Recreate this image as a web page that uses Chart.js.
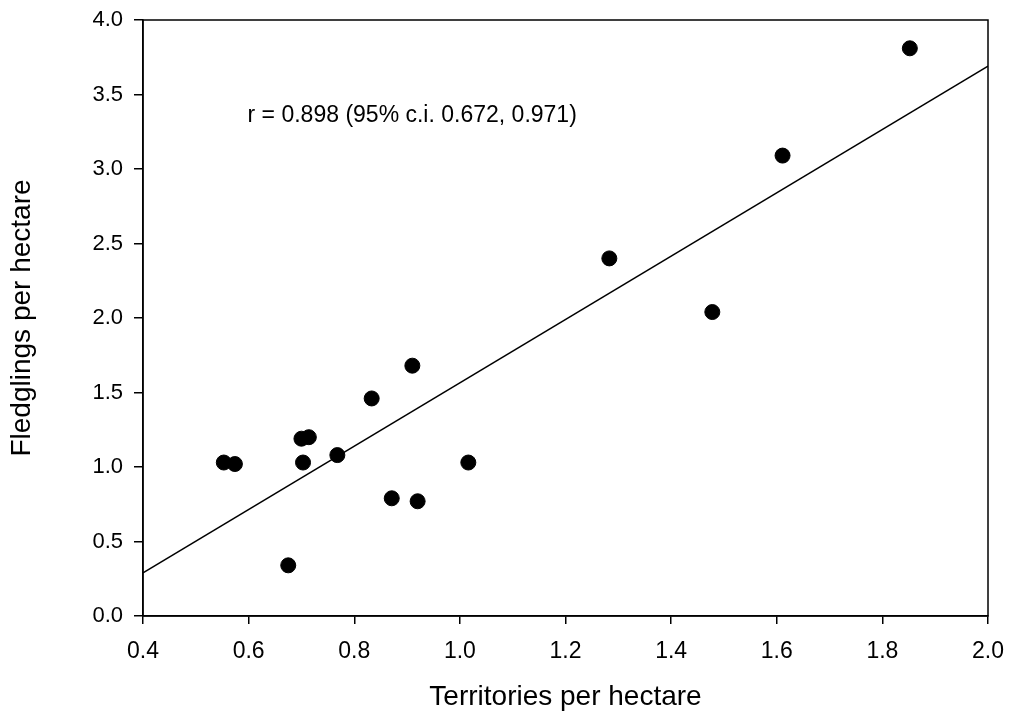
<!DOCTYPE html>
<html>
<head>
<meta charset="utf-8">
<title>Fledglings vs territories</title>
<script src="https://cdn.jsdelivr.net/npm/chart.js@4/dist/chart.umd.min.js"></script>
<style>
  html, body { margin: 0; padding: 0; background: #fff; }
  #wrap { width: 1010px; height: 716px; position: relative; }
</style>
</head>
<body>
<div id="wrap"><canvas id="scatter"></canvas></div>
<script>
// territories per hectare (x) and fledglings per hectare (y), one entry per site
const territories = [0.553, 0.574, 0.675, 0.700, 0.714, 0.703, 0.768, 0.833,
                     0.910, 0.871, 0.920, 1.016, 1.283, 1.478, 1.611, 1.852];
const fledglings  = [1.03, 1.02, 0.34, 1.19, 1.20, 1.03, 1.08, 1.46,
                     1.68, 0.79, 0.77, 1.03, 2.40, 2.04, 3.09, 3.81];

// end points of the fitted regression line
const fitX = [0.4, 2.0];
const fitY = [0.29, 3.69];

const statsLabel = 'r = 0.898 (95% c.i. 0.672, 0.971)';
const FONT = "'Liberation Sans', Arial, sans-serif";

// box around the plot + the r value text
const framePlugin = {
  id: 'frame',
  afterDraw(chart) {
    const { ctx, chartArea: a, scales } = chart;
    ctx.save();
    ctx.strokeStyle = '#000';
    ctx.lineWidth = 1.5;
    ctx.strokeRect(a.left, a.top, a.right - a.left, a.bottom - a.top);

    ctx.fillStyle = '#000';
    ctx.font = '23px ' + FONT;
    ctx.textBaseline = 'middle';
    ctx.textAlign = 'left';
    ctx.fillText(statsLabel, scales.x.getPixelForValue(0.598), scales.y.getPixelForValue(3.36));
    ctx.restore();
  }
};

new Chart(document.getElementById('scatter'), {
  type: 'scatter',
  data: {
    datasets: [
      {
        label: 'sites',
        data: territories.map((t, i) => ({ x: t, y: fledglings[i] })),
        backgroundColor: '#000',
        borderColor: '#000',
        pointRadius: 7.5,
        pointHoverRadius: 7.5
      },
      {
        label: 'fit',
        type: 'line',
        data: fitX.map((t, i) => ({ x: t, y: fitY[i] })),
        borderColor: '#000',
        borderWidth: 1.5,
        pointRadius: 0,
        fill: false
      }
    ]
  },
  options: {
    responsive: true,
    maintainAspectRatio: false,
    animation: false,
    layout: { padding: { top: 20, right: 22, left: 0, bottom: 0 } },
    plugins: {
      legend: { display: false },
      tooltip: { enabled: false }
    },
    scales: {
      x: {
        type: 'linear',
        min: 0.4,
        max: 2.0,
        afterFit(scale) {
          scale.height = 100;
          // keep the end labels from shrinking the plot box
          scale.paddingLeft = 0;
          scale.paddingRight = 0;
        },
        border: { display: true, color: '#000', width: 1.5 },
        grid: { drawOnChartArea: false, drawTicks: true, tickLength: 8, color: '#000', lineWidth: 1.5 },
        ticks: {
          stepSize: 0.2,
          padding: 14,
          color: '#000',
          font: { family: FONT, size: 23 },
          maxRotation: 0,
          callback: v => Number(v).toFixed(1)
        },
        title: {
          display: true,
          text: 'Territories per hectare',
          color: '#000',
          font: { family: FONT, size: 28 },
          padding: { top: 0, bottom: 2 }
        }
      },
      y: {
        type: 'linear',
        min: 0,
        max: 4,
        afterFit(scale) {
          scale.width = 143;
          scale.paddingTop = 0;
          scale.paddingBottom = 0;
        },
        border: { display: true, color: '#000', width: 1.5 },
        grid: { drawOnChartArea: false, drawTicks: true, tickLength: 9, color: '#000', lineWidth: 1.5 },
        ticks: {
          stepSize: 0.5,
          padding: 11,
          color: '#000',
          font: { family: FONT, size: 22 },
          callback: v => Number(v).toFixed(1)
        },
        title: {
          display: true,
          text: 'Fledglings per hectare',
          color: '#000',
          font: { family: FONT, size: 28 },
          padding: { top: 5, bottom: 0 }
        }
      }
    }
  },
  plugins: [framePlugin]
});
</script>
</body>
</html>
